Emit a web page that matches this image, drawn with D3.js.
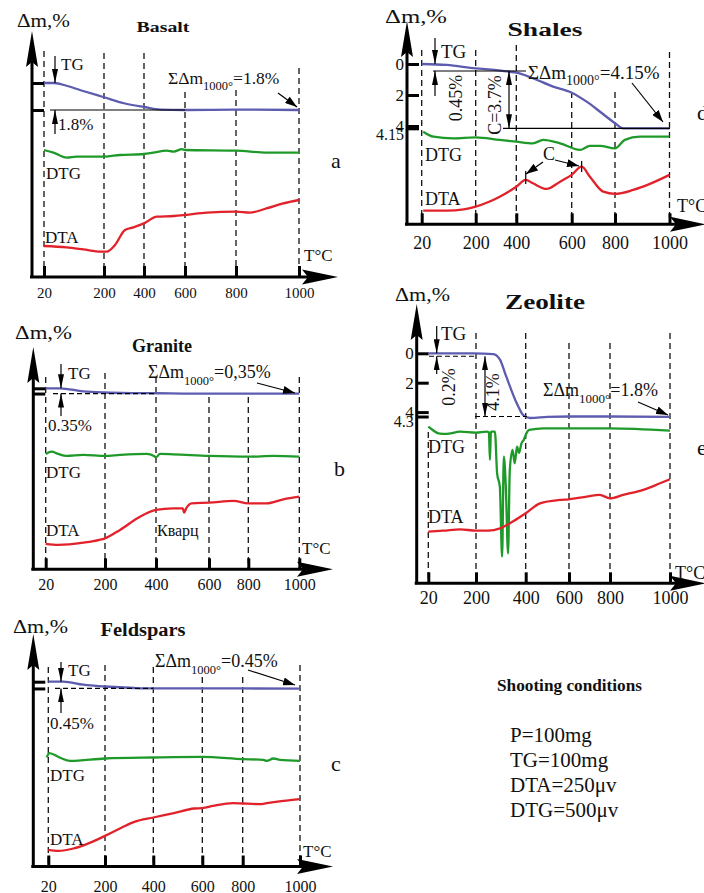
<!DOCTYPE html>
<html lang="en">
<head>
    <meta charset="UTF-8">
    <title>Thermal analysis curves</title>
    <script src="https://cdnjs.cloudflare.com/ajax/libs/d3/7.8.5/d3.min.js"></script>
    <style>
        body { margin: 0; padding: 0; background: #fff; }
        svg { display: block; }
    </style>
</head>
<body>
    <div id="chart"></div>
    <script>
        // temperature ticks (°C)
        const tempTicks = [20, 200, 400, 600, 800, 1000];

        // Basalt (a): TG in Δm %, DTG / DTA in relative units
        const basaltTgT = [20, 50, 90, 140, 200, 300, 400, 480, 600, 800, 1000];
        const basaltTg = [0, 0, 0.2, 0.55, 0.95, 1.35, 1.6, 1.77, 1.8, 1.77, 1.8];
        const basaltDtgT = [20, 48, 88, 118, 200, 280, 400, 445, 510, 545, 585, 600, 800, 897, 1000];
        const basaltDtg = [63.5, 62.2, 59.7, 60.2, 60.2, 61, 61.5, 62.2, 63.2, 62.7, 63.9, 63.5, 63.2, 62.2, 62.2];
        const basaltDtaT = [20, 88, 138, 190, 213, 255, 305, 347, 400, 463, 545, 600, 685, 800, 844, 897, 950, 1000];
        const basaltDta = [15.5, 14.8, 13.8, 12.7, 12.7, 16, 23.5, 24.8, 26.8, 30.2, 30.5, 31, 32.2, 32.7, 32.2, 34.3, 36.8, 38.5];

        // Granite (b)
        const graniteTgT = [20, 63, 134, 200, 311, 400, 503, 600, 725, 800, 1000];
        const graniteTg = [0, 0, 0.2, 0.28, 0.32, 0.33, 0.35, 0.36, 0.36, 0.35, 0.35];
        const graniteDtgT = [20, 38, 58, 83, 134, 200, 259, 363, 392, 400, 415, 465, 600, 800, 898, 1000];
        const graniteDtg = [57.7, 58.8, 57.7, 56.7, 57.2, 56.7, 57.2, 57.7, 56.7, 56, 57.7, 57.5, 56.7, 56.3, 56.7, 56.3];
        const graniteDtaT = [20, 58, 134, 183, 200, 259, 337, 400, 465, 501, 506, 514, 535, 600, 725, 800, 872, 937, 1000];
        const graniteDta = [12.7, 12.2, 13.3, 14.7, 15.5, 19.7, 26.3, 29.7, 30.5, 30.5, 28.3, 30.5, 33, 33.3, 34.2, 33, 33, 35, 36.3];

        // Feldspars (c)
        const feldsparTgT = [20, 68, 131, 200, 321, 400, 600, 800, 1000];
        const feldsparTg = [0, 0, 0.2, 0.32, 0.42, 0.45, 0.45, 0.45, 0.46];
        const feldsparDtgT = [15, 23, 56, 89, 200, 400, 600, 800, 872, 884, 907, 930, 1000];
        const feldsparDtg = [54.5, 56.7, 54.5, 52.8, 54, 54.5, 54.8, 53.7, 53.3, 52.8, 54, 53.3, 52.8];
        const feldsparDtaT = [20, 52, 100, 142, 200, 270, 321, 400, 484, 567, 600, 653, 752, 800, 860, 884, 942, 1000];
        const feldsparDta = [8.3, 7.8, 9, 11.2, 15.3, 19.5, 22.3, 24.5, 26.7, 29, 29.2, 30.3, 31.7, 31.5, 31.2, 31.7, 32.8, 33.7];

        // Shales (d)
        const shalesTgT = [20, 103, 200, 302, 367, 400, 460, 533, 600, 669, 731, 800, 830, 1000];
        const shalesTg = [0, 0.06, 0.28, 0.39, 0.5, 0.56, 0.92, 1.46, 1.85, 2.43, 3.08, 3.82, 4.15, 4.15];
        const shalesDtgT = [25, 59, 125, 200, 318, 400, 460, 497, 558, 638, 684, 731, 800, 836, 891, 1000];
        const shalesDtg = [46.3, 43.8, 43, 43.5, 42.2, 41.3, 40.5, 42.2, 40.5, 37.2, 39.2, 39.2, 38, 42.2, 43.8, 43.8];
        const shalesDtaT = [25, 103, 160, 200, 260, 318, 400, 434, 460, 509, 558, 600, 646, 684, 746, 800, 867, 928, 1000];
        const shalesDta = [6.8, 6.8, 7.5, 8.8, 11, 13.8, 18.8, 22.2, 20.5, 17.7, 21.3, 24.7, 28.8, 23.8, 16.3, 15.2, 17.2, 20.2, 24.7];

        // Zeolite (e)
        const zeoliteTgT = [20, 190, 270, 297, 317, 337, 364, 390, 420, 500, 600, 800, 1000];
        const zeoliteTg = [0, 0, 0.05, 0.45, 1.36, 2.27, 3.4, 4.2, 4.4, 4.33, 4.3, 4.3, 4.32];
        const zeoliteDtgT = [20, 33, 58, 88, 140, 200, 243, 252, 256, 260, 264, 276, 285, 296, 305, 312, 320, 329, 336, 347,
            356, 365, 373, 383, 392, 400, 416, 482, 600, 800, 1000];
        const zeoliteDtg = [78.3, 77, 75, 74.7, 75.8, 75.3, 75.8, 75.5, 61.7, 75.5, 75.8, 75.8, 55, 48.3, 13.3, 63.3, 48.3, 15, 56.7, 66.7,
            60, 68.3, 65.2, 70, 71.7, 74.2, 76.7, 77.5, 77.5, 77.5, 76.3];
        const zeoliteDtaT = [20, 77, 140, 200, 250, 297, 350, 400, 466, 558, 600, 686, 750, 800, 844, 911, 967, 1000];
        const zeoliteDta = [25.8, 26.3, 27, 26.3, 26.3, 27.5, 31, 35, 40, 41.7, 42, 43.3, 44.2, 42.5, 44.2, 46.7, 50, 52];

        const conditions = ['P=100mg', 'TG=100mg', 'DTA=250μv', 'DTG=500μv'];

        const SERIF = '"Liberation Serif", "Times New Roman", serif';
        const TG_COLOR = '#5e5cae';
        const DTG_COLOR = '#1f9a2a';
        const DTA_COLOR = '#e2222a';

        const svg = d3.select('#chart').append('svg')
            .attr('width', 704)
            .attr('height', 893);

        const defs = svg.append('defs');
        defs.append('marker')
            .attr('id', 'ah')
            .attr('viewBox', '0 0 12 8')
            .attr('refX', 12).attr('refY', 4)
            .attr('markerWidth', 12).attr('markerHeight', 8)
            .attr('markerUnits', 'userSpaceOnUse')
            .attr('orient', 'auto-start-reverse')
            .append('path').attr('d', 'M0,0 L12,4 L0,8 Z').attr('fill', '#000');
        defs.append('marker')
            .attr('id', 'ahn')
            .attr('viewBox', '0 0 14 6')
            .attr('refX', 14).attr('refY', 3)
            .attr('markerWidth', 14).attr('markerHeight', 6)
            .attr('markerUnits', 'userSpaceOnUse')
            .attr('orient', 'auto-start-reverse')
            .append('path').attr('d', 'M0,0 L14,3 L0,6 Z').attr('fill', '#000');

        function label(g, x, y, s, o = {}) {
            const t = g.append('text')
                .attr('x', x).attr('y', y).attr('dy', '0.35em')
                .attr('font-family', SERIF)
                .attr('font-size', o.size || 17)
                .attr('font-weight', o.bold ? 'bold' : null)
                .attr('text-anchor', o.anchor || 'start')
                .attr('fill', '#111')
                .text(s);
            if (o.len) t.attr('textLength', o.len).attr('lengthAdjust', 'spacingAndGlyphs');
            if (o.rot) t.attr('transform', `rotate(${o.rot},${x},${y})`);
            return t;
        }

        function sigma(g, x, y, val, size, sub) {
            const t = g.append('text')
                .attr('x', x).attr('y', y).attr('dy', '0.35em')
                .attr('font-family', SERIF).attr('font-size', size).attr('fill', '#111');
            t.append('tspan').text('ΣΔm');
            t.append('tspan').attr('font-size', sub).attr('dy', size * 0.35).text('1000°');
            t.append('tspan').attr('dy', -size * 0.35).text('=' + val);
        }

        function arrow(g, x1, y1, x2, y2, o = {}) {
            const l = g.append('line')
                .attr('x1', x1).attr('y1', y1).attr('x2', x2).attr('y2', y2)
                .attr('stroke', '#000').attr('stroke-width', o.w || 1.2)
                .attr('marker-end', `url(#${o.m || 'ah'})`);
            if (o.both) l.attr('marker-start', `url(#${o.m || 'ah'})`);
            return l;
        }

        function hline(g, x1, x2, y, dashed) {
            g.append('line')
                .attr('x1', x1).attr('x2', x2).attr('y1', y).attr('y2', y)
                .attr('stroke', '#000').attr('stroke-width', 1.2)
                .attr('stroke-dasharray', dashed ? '5,3' : null);
        }

        // one thermogram panel
        function panel(cfg) {
            const g = svg.append('g');
            const x = d3.scaleLinear().domain(tempTicks).range(cfg.xr);
            const tg = d3.scaleLinear().domain([0, 1]).range([cfg.tg0, cfg.tg0 + cfg.tgPx]);
            const sig = d3.scaleLinear().domain([0, 100]).range([cfg.ay, cfg.ay - 200]);

            // dashed temperature guides
            g.selectAll('line.guide').data(tempTicks).join('line')
                .attr('class', 'guide')
                .attr('x1', d => x(d)).attr('x2', d => x(d))
                .attr('y1', (d, i) => cfg.dashTop[i]).attr('y2', cfg.ay)
                .attr('stroke', '#111').attr('stroke-width', 1.3)
                .attr('stroke-dasharray', '6,4');

            // x axis ticks and labels
            const xa = g.append('g')
                .attr('transform', `translate(0,${cfg.ay})`)
                .call(d3.axisBottom(x).tickValues(tempTicks)
                    .tickSizeInner(-11).tickSizeOuter(0)
                    .tickPadding(cfg.labelY - cfg.ay - 0.38 * cfg.tickFs)
                    .tickFormat(d3.format('d')));
            xa.select('.domain').remove();
            xa.selectAll('line').attr('stroke', '#000').attr('stroke-width', 3);
            xa.selectAll('text').attr('font-family', SERIF).attr('font-size', cfg.tickFs).attr('fill', '#111');

            // axis lines with arrows
            g.append('line')
                .attr('x1', cfg.ax - 2).attr('x2', cfg.xEnd - 20)
                .attr('y1', cfg.ay).attr('y2', cfg.ay)
                .attr('stroke', '#000').attr('stroke-width', 3);
            g.append('line')
                .attr('x1', cfg.ax).attr('x2', cfg.ax)
                .attr('y1', cfg.ay + 1).attr('y2', cfg.top + 20)
                .attr('stroke', '#000').attr('stroke-width', 3);
            g.append('path')
                .attr('d', `M${cfg.xEnd},${cfg.ay} L${cfg.xEnd - 36},${cfg.ay - 7.5} L${cfg.xEnd - 30},${cfg.ay} L${cfg.xEnd - 36},${cfg.ay + 7.5} Z`)
                .attr('fill', '#000');
            g.append('path')
                .attr('d', `M${cfg.ax},${cfg.top} L${cfg.ax - 6},${cfg.top + 36} L${cfg.ax},${cfg.top + 31} L${cfg.ax + 6},${cfg.top + 36} Z`)
                .attr('fill', '#000');

            // TG ticks on the y axis
            const ya = g.append('g')
                .attr('transform', `translate(${cfg.ax},0)`)
                .call(d3.axisLeft(tg).tickValues(cfg.tgTicks)
                    .tickSizeInner(-12).tickSizeOuter(0).tickPadding(3)
                    .tickFormat(d => cfg.tgLabels ? String(d) : ''));
            ya.select('.domain').remove();
            ya.selectAll('line').attr('stroke', '#000').attr('stroke-width', 3);
            ya.selectAll('text').attr('font-family', SERIF).attr('font-size', 17).attr('fill', '#111');
            if (cfg.lastShift) {
                ya.selectAll('.tick').filter(d => d === cfg.tgTicks[cfg.tgTicks.length - 1])
                    .select('text').attr('dy', `${cfg.lastShift}px`).attr('font-size', 16);
            }

            // curves
            const series = [
                [cfg.tgT, cfg.tgV, tg, TG_COLOR],
                [cfg.dtgT, cfg.dtgV, sig, DTG_COLOR],
                [cfg.dtaT, cfg.dtaV, sig, DTA_COLOR]
            ];
            series.forEach(([ts, vs, yScale, color]) => {
                const line = d3.line()
                    .x(d => x(d[0]))
                    .y(d => yScale(d[1]))
                    .curve(d3.curveMonotoneX);
                g.append('path')
                    .datum(d3.zip(ts, vs))
                    .attr('d', line)
                    .attr('fill', 'none')
                    .attr('stroke', color)
                    .attr('stroke-width', 2.3)
                    .attr('stroke-linejoin', 'round');
            });

            return { g, x, tg, sig };
        }

        // ---- a: Basalt ----
        const pa = panel({
            ax: 32, ay: 277, top: 31, xEnd: 338,
            xr: [44, 104, 144, 185, 236, 299],
            dashTop: [51, 53, 53, 92, 90, 68],
            labelY: 293, tickFs: 15,
            tg0: 83, tgPx: 15, tgTicks: [0, 1.8], tgLabels: false,
            tgT: basaltTgT, tgV: basaltTg, dtgT: basaltDtgT, dtgV: basaltDtg, dtaT: basaltDtaT, dtaV: basaltDta
        });
        label(pa.g, 17, 21, 'Δm,%', { size: 18, len: 53 });
        label(pa.g, 163, 27, 'Basalt', { size: 15, bold: true, anchor: 'middle', len: 53 });
        label(pa.g, 61, 64, 'TG', { size: 17 });
        hline(pa.g, 50, pa.x(600), pa.tg(1.8));
        arrow(pa.g, 55, 56, 55, pa.tg(0), { m: 'ahn' });
        arrow(pa.g, 55, 134, 55, pa.tg(1.8), { m: 'ahn' });
        label(pa.g, 58, 124, '1.8%', { size: 17 });
        sigma(pa.g, 168, 78, '1.8%', 17.5, 12.5);
        arrow(pa.g, 278, 93, 297, 107);
        label(pa.g, 46, 173, 'DTG', { size: 17 });
        label(pa.g, 45, 237, 'DTA', { size: 17 });
        label(pa.g, 331, 160, 'a', { size: 22 });
        label(pa.g, 304, 255, 'T°C', { size: 17 });

        // ---- b: Granite ----
        const pb = panel({
            ax: 33.3, ay: 569.3, top: 347, xEnd: 333,
            xr: [45.7, 105, 156, 209, 248.3, 299.3],
            dashTop: [377, 373, 377, 397, 397, 377],
            labelY: 585, tickFs: 16,
            tg0: 388.3, tgPx: 15, tgTicks: [0, 0.35], tgLabels: false,
            tgT: graniteTgT, tgV: graniteTg, dtgT: graniteDtgT, dtgV: graniteDtg, dtaT: graniteDtaT, dtaV: graniteDta
        });
        label(pb.g, 15, 333, 'Δm,%', { size: 18, len: 57 });
        label(pb.g, 162, 345, 'Granite', { size: 19, bold: true, anchor: 'middle', len: 60 });
        label(pb.g, 68, 373, 'TG', { size: 17 });
        hline(pb.g, 53, pb.x(400), pb.tg(0.35), true);
        arrow(pb.g, 61, 364, 61, pb.tg(0), { m: 'ahn' });
        arrow(pb.g, 61, 416, 61, pb.tg(0.35), { m: 'ahn' });
        label(pb.g, 48, 425, '0.35%', { size: 17 });
        sigma(pb.g, 148, 372, '0,35%', 18, 12.5);
        arrow(pb.g, 257, 383, 295, 393);
        label(pb.g, 46, 472, 'DTG', { size: 17 });
        label(pb.g, 46, 530, 'DTA', { size: 17 });
        label(pb.g, 157, 530, 'Кварц', { size: 16 });
        label(pb.g, 334, 468, 'b', { size: 22 });
        label(pb.g, 302, 548, 'T°C', { size: 17 });

        // ---- c: Feldspars ----
        const pc = panel({
            ax: 33.3, ay: 866.5, top: 634, xEnd: 333,
            xr: [48.3, 105, 153.3, 202.3, 242.7, 300],
            dashTop: [667, 665, 667, 677, 677, 665],
            labelY: 886.5, tickFs: 16,
            tg0: 681.7, tgPx: 15, tgTicks: [0, 0.45], tgLabels: false,
            tgT: feldsparTgT, tgV: feldsparTg, dtgT: feldsparDtgT, dtgV: feldsparDtg, dtaT: feldsparDtaT, dtaV: feldsparDta
        });
        label(pc.g, 13, 627, 'Δm,%', { size: 18, len: 55 });
        label(pc.g, 143, 630, 'Feldspars', { size: 18, bold: true, anchor: 'middle', len: 85 });
        label(pc.g, 68, 670, 'TG', { size: 17 });
        hline(pc.g, 55, pc.x(400), pc.tg(0.45), true);
        arrow(pc.g, 61, 662, 61, pc.tg(0), { m: 'ahn' });
        arrow(pc.g, 61, 713, 61, pc.tg(0.45), { m: 'ahn' });
        label(pc.g, 50, 723, '0.45%', { size: 17 });
        sigma(pc.g, 155, 661, '0.45%', 18, 12.5);
        arrow(pc.g, 248, 670, 295, 685);
        label(pc.g, 50, 775, 'DTG', { size: 17 });
        label(pc.g, 50, 839, 'DTA', { size: 17 });
        label(pc.g, 331, 763, 'c', { size: 22 });
        label(pc.g, 303, 851, 'T°C', { size: 17 });

        // ---- d: Shales ----
        const pd = panel({
            ax: 407, ay: 224.3, top: 21, xEnd: 706,
            xr: [421.7, 475.7, 516.3, 571.7, 615, 669.5],
            dashTop: [50, 50, 45, 92, 92, 52],
            labelY: 243, tickFs: 18,
            tg0: 64, tgPx: 15.5, tgTicks: [0, 2, 4, 4.15], tgLabels: true, lastShift: 11,
            tgT: shalesTgT, tgV: shalesTg, dtgT: shalesDtgT, dtgV: shalesDtg, dtaT: shalesDtaT, dtaV: shalesDta
        });
        label(pd.g, 385, 17, 'Δm,%', { size: 18, len: 62 });
        label(pd.g, 545, 30, 'Shales', { size: 18, bold: true, anchor: 'middle', len: 75 });
        label(pd.g, 441, 51, 'TG', { size: 19 });
        hline(pd.g, 433, 526, pd.tg(0.45));
        hline(pd.g, 503, 670, pd.tg(4.15));
        arrow(pd.g, 435, 38, 435, pd.tg(0), { m: 'ahn' });
        arrow(pd.g, 435, 96, 435, pd.tg(0.45), { m: 'ahn' });
        label(pd.g, 456, 98, '0.45%', { size: 18, anchor: 'middle', rot: -90 });
        arrow(pd.g, 509, pd.tg(0.45), 509, pd.tg(4.15), { m: 'ahn', both: true });
        label(pd.g, 495, 105, 'C=3.7%', { size: 18, anchor: 'middle', rot: -90 });
        sigma(pd.g, 528, 72, '4.15%', 19, 14);
        arrow(pd.g, 632, 83, 663, 122);
        label(pd.g, 425, 155, 'DTG', { size: 18 });
        label(pd.g, 425, 199, 'DTA', { size: 18 });
        label(pd.g, 549, 154, 'C', { size: 18, anchor: 'middle' });
        arrow(pd.g, 543, 162, 526, 174);
        arrow(pd.g, 555, 160, 579, 166);
        pd.g.append('line').attr('x1', pd.x(434)).attr('x2', pd.x(434))
            .attr('y1', 171).attr('y2', 184).attr('stroke', '#000').attr('stroke-width', 1.2);
        pd.g.append('line').attr('x1', pd.x(646)).attr('x2', pd.x(646))
            .attr('y1', 161).attr('y2', 172).attr('stroke', '#000').attr('stroke-width', 1.2);
        label(pd.g, 697, 112, 'd', { size: 22 });
        label(pd.g, 677, 206, 'T°C', { size: 18 });

        // ---- e: Zeolite ----
        const pe = panel({
            ax: 416.7, ay: 583.3, top: 304, xEnd: 706,
            xr: [428.3, 476, 525.7, 569, 610, 670],
            dashTop: [432, 333, 333, 343, 343, 333],
            labelY: 598, tickFs: 18,
            tg0: 353.3, tgPx: 14.7, tgTicks: [0, 2, 4, 4.3], tgLabels: true, lastShift: 10,
            tgT: zeoliteTgT, tgV: zeoliteTg, dtgT: zeoliteDtgT, dtgV: zeoliteDtg, dtaT: zeoliteDtaT, dtaV: zeoliteDta
        });
        label(pe.g, 395, 295, 'Δm,%', { size: 18, len: 55 });
        label(pe.g, 545, 302, 'Zeolite', { size: 20, bold: true, anchor: 'middle', len: 80 });
        label(pe.g, 441, 333, 'TG', { size: 19 });
        hline(pe.g, 429, 475, pe.tg(0.2), true);
        hline(pe.g, 475, 527, pe.tg(4.3), true);
        arrow(pe.g, 436.7, 326, 436.7, pe.tg(0), { m: 'ahn' });
        arrow(pe.g, 436.7, 374, 436.7, pe.tg(0.2), { m: 'ahn' });
        label(pe.g, 449, 387, '0.2%', { size: 18, anchor: 'middle', rot: -90 });
        arrow(pe.g, 485, pe.tg(0.2), 485, pe.tg(4.3), { m: 'ahn', both: true });
        label(pe.g, 493, 392, '4.1%', { size: 18, anchor: 'middle', rot: -90 });
        sigma(pe.g, 543, 390, '1.8%', 18, 13);
        arrow(pe.g, 638, 402, 668, 415);
        label(pe.g, 428, 447, 'DTG', { size: 18 });
        label(pe.g, 428, 517, 'DTA', { size: 18 });
        label(pe.g, 697, 447, 'e', { size: 22 });
        label(pe.g, 675, 573, 'T°C', { size: 18 });

        // shooting conditions
        const cond = svg.append('g');
        label(cond, 497, 685, 'Shooting conditions', { size: 16.5, bold: true, len: 145 });
        cond.selectAll('text.cond').data(conditions).join('text')
            .attr('class', 'cond')
            .attr('x', 510)
            .attr('y', (d, i) => 735 + i * 25)
            .attr('dy', '0.35em')
            .attr('font-family', SERIF)
            .attr('font-size', 21)
            .attr('fill', '#111')
            .text(d => d);
    </script>
</body>
</html>
